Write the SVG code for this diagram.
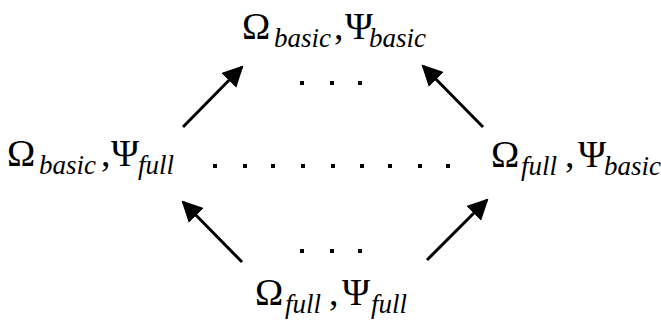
<svg xmlns="http://www.w3.org/2000/svg" width="661" height="331" viewBox="0 0 661 331">
<style>
.m{font-family:"Liberation Serif","Times New Roman",serif;font-size:38px;fill:#000}
.s{font-family:"Liberation Serif","Times New Roman",serif;font-size:27px;font-style:italic;fill:#000}
.ln{stroke:#000;stroke-width:3;fill:none}
.dot{fill:#000}
</style>
<defs>
<marker id="ah" viewBox="0 0 10 10" refX="9" refY="5" markerWidth="7" markerHeight="7" orient="auto" markerUnits="strokeWidth">
<path d="M0,0 L10,5 L0,10 z" fill="#000"/>
</marker>
</defs>
<rect width="661" height="331" fill="#fff"/>
<g id="top">
<text class="m" x="242" y="39">Ω</text><text class="s" x="274" y="47">basic</text><text class="m" x="334" y="39">,</text><text class="m" x="345" y="39">Ψ</text><text class="s" x="369" y="47">basic</text>
</g>
<g id="left">
<text class="m" x="7" y="166">Ω</text><text class="s" x="39" y="174">basic</text><text class="m" x="101" y="166">,</text><text class="m" x="111" y="166">Ψ</text><text class="s" x="138" y="174">full</text>
</g>
<g id="right">
<text class="m" x="491" y="167">Ω</text><text class="s" x="521" y="175">full</text><text class="m" x="565" y="167">,</text><text class="m" x="578" y="167">Ψ</text><text class="s" x="604" y="175">basic</text>
</g>
<g id="bottom">
<text class="m" x="255" y="305">Ω</text><text class="s" x="285" y="313">full</text><text class="m" x="329" y="305">,</text><text class="m" x="342" y="305">Ψ</text><text class="s" x="371" y="313">full</text>
</g>
<g id="connectors">
<line class="ln" x1="183" y1="127" x2="242" y2="67" marker-end="url(#ah)"/>
<line class="ln" x1="483" y1="127" x2="423" y2="66" marker-end="url(#ah)"/>
<line class="ln" x1="242" y1="262" x2="183" y2="202" marker-end="url(#ah)"/>
<line class="ln" x1="427" y1="260" x2="487" y2="200" marker-end="url(#ah)"/>
</g>
<g id="dots">
<rect class="dot" x="300" y="81" width="4" height="4"/><rect class="dot" x="330" y="81" width="4" height="4"/><rect class="dot" x="358" y="81" width="4" height="4"/>
<rect class="dot" x="213" y="164" width="4" height="4"/><rect class="dot" x="243" y="164" width="4" height="4"/><rect class="dot" x="271" y="164" width="4" height="4"/><rect class="dot" x="301" y="164" width="4" height="4"/><rect class="dot" x="331" y="164" width="4" height="4"/><rect class="dot" x="360" y="164" width="4" height="4"/><rect class="dot" x="388" y="164" width="4" height="4"/><rect class="dot" x="418" y="164" width="4" height="4"/><rect class="dot" x="446" y="164" width="4" height="4"/>
<rect class="dot" x="300" y="249" width="4" height="4"/><rect class="dot" x="330" y="249" width="4" height="4"/><rect class="dot" x="358" y="249" width="4" height="4"/>
</g>
</svg>
